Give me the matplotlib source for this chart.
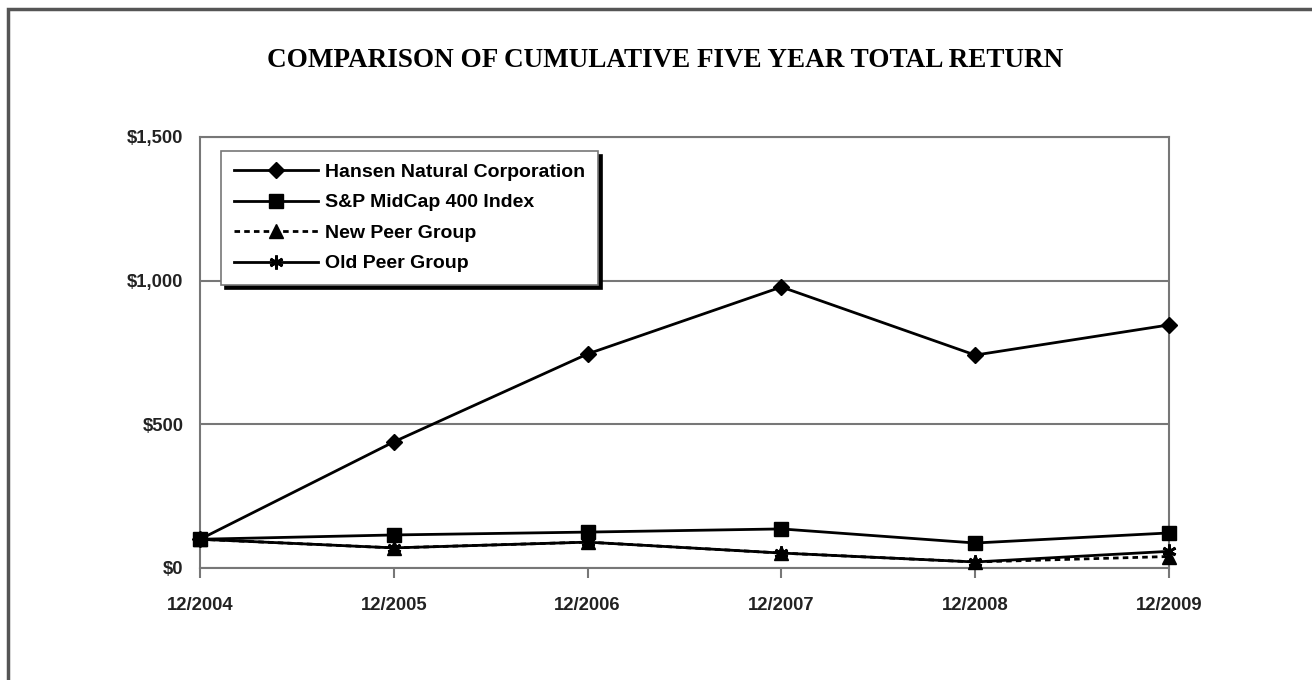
import matplotlib.pyplot as plt
from matplotlib.patches import Rectangle

years = ['12/2004', '12/2005', '12/2006', '12/2007', '12/2008', '12/2009']
hansen = [100, 439, 745, 978, 741, 846]
sp400 = [100, 115, 125, 136, 87, 122]
new_peer = [100, 70, 90, 52, 21, 40]
old_peer = [100, 70, 90, 52, 21, 58]

plt.rcParams['font.family'] = ['Liberation Sans', 'DejaVu Sans']

fig = plt.figure(figsize=(13.12, 6.8), dpi=100)
ax = fig.add_axes([200/1312, 1-568/680, 969/1312, 431/680])

x = range(len(years))
ax.plot(x, hansen, color='black', lw=2, marker='D', ms=8, clip_on=False,
        label='Hansen Natural Corporation', zorder=5)
ax.plot(x, sp400, color='black', lw=2, marker='s', ms=10.5, clip_on=False,
        label='S&P MidCap 400 Index', zorder=4)
ax.plot(x, new_peer, color='black', lw=2, ls=(0, (2, 1.5)), marker='^', ms=10.5,
        clip_on=False, label='New Peer Group', zorder=3)
ax.plot(x, old_peer, color='black', lw=2, marker=(6, 2, 0), ms=10, mew=2,
        clip_on=False, label='Old Peer Group', zorder=3)

ax.set_xlim(0, 5)
ax.set_ylim(0, 1500)
ax.set_yticks([0, 500, 1000, 1500])
ax.set_yticklabels(['$0', '$500', '$1,000', '$1,500'])
ax.set_xticks(list(x))
ax.set_xticklabels(years)
ax.yaxis.grid(True, color='#777777', lw=1.5)
ax.set_axisbelow(True)
for s in ax.spines.values():
    s.set_color('#777777')
    s.set_linewidth(1.5)
ax.tick_params(axis='y', length=0, pad=12, labelsize=13.3)
ax.tick_params(axis='x', length=7, width=1.5, color='#777777', direction='out',
               pad=14, labelsize=13.3)
for t in ax.get_xticklabels() + ax.get_yticklabels():
    t.set_fontweight('bold')
    t.set_color('#222222')

leg = ax.legend(loc='upper left', bbox_to_anchor=(0.022, 0.968), frameon=True,
                fancybox=False, shadow={'color': 'black', 'alpha': 1, 'ox': 3, 'oy': -3},
                prop={'weight': 'bold', 'size': 14}, handlelength=4.3,
                handletextpad=0.4, labelspacing=0.66, borderpad=0.65,
                borderaxespad=0, edgecolor='#777777')
leg.get_frame().set_linewidth(1.2)

fig.text(0.507, 0.911, 'COMPARISON OF CUMULATIVE FIVE YEAR TOTAL RETURN',
         ha='center', va='center', fontsize=19.5, fontweight='bold',
         family='Liberation Serif')

fig.patches.append(Rectangle((8/1312, -0.1), 1.2, 1-9/680+0.1, transform=fig.transFigure,
                             fill=False, edgecolor='#555555', lw=2.5))

fig.savefig('out.png', dpi=100)
